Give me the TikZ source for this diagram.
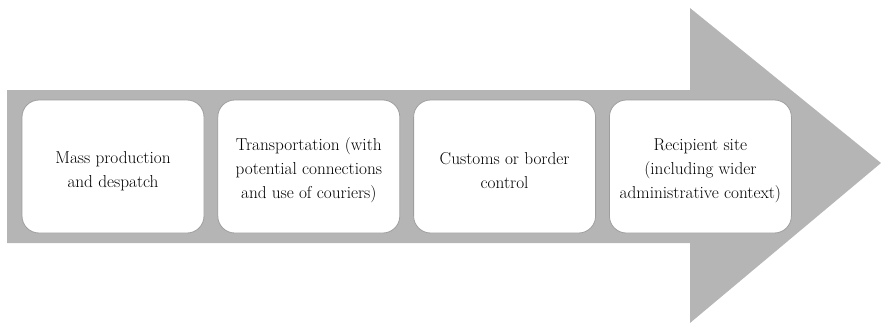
\documentclass[tikz,border=0pt]{standalone}
\usetikzlibrary{positioning}
\definecolor{arrowgray}{RGB}{181,181,181}
\definecolor{edgegray}{RGB}{158,158,158}
\tikzset{
  stage/.style={draw=edgegray, line width=0.8pt, fill=white, rounded corners=17pt,
    minimum width=182pt, minimum height=133pt, align=center,
    font=\fontsize{17.25}{24}\selectfont, inner sep=0pt}
}
\newcommand{\toppad}{\rule{0pt}{21pt}}
\begin{document}
\begin{tikzpicture}[x=1pt, y=1pt]
  \useasboundingbox (0,0) rectangle (881,325);
  \coordinate (tail top) at (7,235);
  \coordinate (tail bot) at (7,82);
  \coordinate (tip) at (881,162);
  \fill[arrowgray] (tail top) -- (690,235) -- (690,317) -- (tip)
    -- (690,2) -- (690,82) -- (tail bot) -- cycle;

  \node[stage] (mass) at (113,158.5) {\toppad Mass production\\and despatch};
  \node[stage] (transport) [right=13pt of mass] {\toppad Transportation (with\\potential connections\\and use of couriers)};
  \node[stage] (customs) [right=13pt of transport] {\toppad Customs or border\\control};
  \node[stage] (recipient) [right=13pt of customs] {\toppad Recipient site\\(including wider\\administrative context)};
\end{tikzpicture}
\end{document}
